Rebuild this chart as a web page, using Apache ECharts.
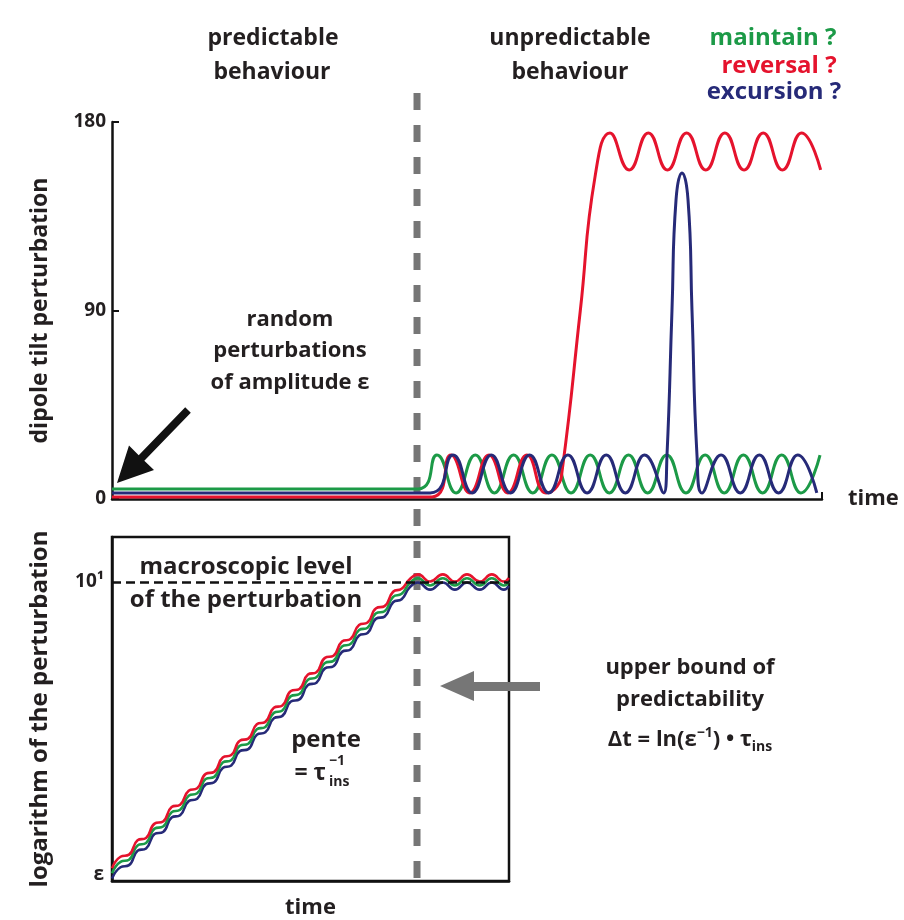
<!DOCTYPE html>
<html><head><meta charset="utf-8">
<script src="https://cdn.jsdelivr.net/npm/echarts@6/dist/echarts.min.js"></script>
<style>html,body{margin:0;padding:0;background:#fff}#c{width:904px;height:920px}</style>
</head><body><div id="c"></div>
<script>
// ---------------- data ----------------
const tiltTicks = [0, 90, 180];
const predictabilityLimit = 42.96;          // time of the dashed boundary

// top panel: dipole tilt perturbation (degrees) vs time
const greenTime = [0, 43.1, 45.77, 48.47, 51.17, 53.86, 56.56, 59.26, 61.96, 64.65, 67.35, 70.05, 72.75, 75.44, 78.14, 80.84, 83.54, 86.23, 88.93, 91.63, 94.32, 97.02, 99.72];
const greenTilt = [4.8, 4.8, 21, 2.9, 21, 2.9, 21, 2.9, 21, 2.9, 21, 2.9, 21, 2.9, 21, 2.9, 21, 2.9, 21, 2.9, 21, 2.9, 21];

const redTime = [0, 45.07, 47.75, 50.42, 53.1, 55.77, 58.45, 61.13, 62.68, 63.42, 65.96, 68.03, 70.14, 72.84, 75.54, 78.23, 80.93, 83.63, 86.32, 89.02, 91.72, 94.42, 97.11, 99.81];
const redTilt = [1.0, 1.0, 21, 2.9, 21, 2.9, 21, 2.9, 6, 14, 90, 153.8, 174.8, 157.1, 174.8, 157.1, 174.8, 157.1, 174.8, 157.1, 174.8, 157.1, 174.8, 157.1];

const blueTime = [0, 44.8, 48.03, 50.73, 53.42, 56.12, 58.82, 61.51, 64.21, 66.91, 69.61, 72.30, 75.0, 77.70, 78.17, 78.87, 79.44, 80.28, 81.13, 81.69, 82.39, 83.09, 85.79, 88.49, 91.18, 93.88, 96.58, 99.27];
const blueTilt = [2.9, 2.9, 21, 2.9, 21, 2.9, 21, 2.9, 21, 2.9, 21, 2.9, 21, 2.9, 21, 90, 142.8, 155.7, 142.8, 90, 21, 2.9, 21, 2.9, 21, 2.9, 21, 2.9];

// bottom panel: logarithm of the perturbation vs time
const logTicks = [0.2, 10];
const logTickLabels = ['ε', '10¹'];
const macroLevel = 10;
const logTime = [0, 1.2, 2.4, 3.6, 4.8, 6.0, 7.2, 8.4, 9.6, 10.8, 12.0, 13.2, 14.4, 15.6, 16.8, 18.0, 19.2, 20.4, 21.6, 22.8, 24.0, 25.2, 26.4, 27.6, 28.8, 30.0, 31.2, 32.4, 33.6, 34.8, 36.0, 37.2, 38.4, 39.6, 40.8, 41.9, 43.1, 44.8, 46.6, 48.3, 50.0, 51.8, 53.5, 55.2, 55.9];
const greenLog = [0.26, 0.64, 0.71, 1.19, 1.27, 1.75, 1.82, 2.30, 2.38, 2.85, 2.93, 3.41, 3.48, 3.96, 4.04, 4.52, 4.59, 5.07, 5.15, 5.62, 5.70, 6.18, 6.25, 6.73, 6.81, 7.29, 7.36, 7.84, 7.92, 8.39, 8.47, 8.95, 9.02, 9.50, 9.60, 9.95, 10.12, 9.88, 10.12, 9.88, 10.12, 9.88, 10.12, 9.88, 10.0];
const redLog = [0.43, 0.81, 0.88, 1.36, 1.44, 1.92, 1.99, 2.47, 2.55, 3.02, 3.10, 3.58, 3.65, 4.13, 4.21, 4.69, 4.76, 5.24, 5.32, 5.79, 5.87, 6.35, 6.42, 6.90, 6.98, 7.46, 7.53, 8.01, 8.09, 8.56, 8.64, 9.12, 9.19, 9.67, 9.77, 10.08, 10.25, 10.01, 10.25, 10.01, 10.25, 10.01, 10.25, 10.01, 10.13];
const blueLog = [0.08, 0.46, 0.53, 1.01, 1.09, 1.57, 1.64, 2.12, 2.20, 2.67, 2.75, 3.23, 3.30, 3.78, 3.86, 4.34, 4.41, 4.89, 4.97, 5.44, 5.52, 6.00, 6.07, 6.55, 6.63, 7.11, 7.18, 7.66, 7.74, 8.21, 8.29, 8.77, 8.84, 9.32, 9.42, 9.81, 9.98, 9.74, 9.98, 9.74, 9.98, 9.74, 9.98, 9.74, 9.86];

// ---------------- styling ----------------
const FONT = '"Open Sans", "Noto Sans", "DejaVu Sans", sans-serif';
const INK = '#231f20';
const GREEN = '#1c9a47', RED = '#e5132d', BLUE = '#262a78', GRAY = '#767676';

const zip = (a, b) => a.map((t, i) => [t, b[i]]);
function line(name, xi, yi, data, color, width, extra) {
  return Object.assign({
    type: 'line', name, xAxisIndex: xi, yAxisIndex: yi, data,
    symbol: 'none', showSymbol: false, smooth: 0.5, silent: true, animation: false,
    lineStyle: { color, width }, itemStyle: { color }
  }, extra || {});
}
const axisLine = { show: true, lineStyle: { color: '#111', width: 2.5 } };
const nameStyle = { fontFamily: FONT, fontSize: 23, fontWeight: 'bold', color: INK };

const chart = echarts.init(document.getElementById('c'));
chart.setOption({
  backgroundColor: '#fff',
  animation: false,
  grid: [
    { left: 112, top: 122, width: 710, height: 377 },
    { left: 112, top: 537, width: 397, height: 353, show: true, borderColor: '#111', borderWidth: 2.5 }
  ],
  xAxis: [
    { gridIndex: 0, type: 'value', min: 0, max: 100, axisLine,
      axisTick: { show: true, customValues: [100], inside: true, length: 7, lineStyle: { color: '#111', width: 2 } },
      axisLabel: { show: false }, splitLine: { show: false },
      name: 'time', nameLocation: 'end', nameGap: 26, nameTextStyle: Object.assign({}, nameStyle, { fontSize: 22 }) },
    { gridIndex: 1, type: 'value', min: 0, max: 55.92, axisLine,
      axisTick: { show: false }, axisLabel: { show: false }, splitLine: { show: false },
      name: 'time', nameLocation: 'middle', nameGap: 16, nameTextStyle: Object.assign({}, nameStyle, { fontSize: 22 }) }
  ],
  yAxis: [
    { gridIndex: 0, type: 'value', min: 0, max: 180, interval: 90, axisLine,
      axisTick: { show: true, inside: true, length: 7, lineStyle: { color: '#111', width: 2 } },
      axisLabel: { show: true, margin: 6, fontFamily: FONT, fontSize: 19, fontWeight: 'bold', color: INK },
      splitLine: { show: false },
      name: 'dipole tilt perturbation', nameLocation: 'middle', nameRotate: 90, nameGap: 60, nameTextStyle: nameStyle },
    { gridIndex: 1, type: 'value', min: 0, max: 11.5, axisLine,
      axisTick: { show: false },
      axisLabel: { show: true, customValues: logTicks, margin: 8, fontFamily: FONT, fontSize: 19, fontWeight: 'bold', color: INK,
        formatter: v => logTickLabels[logTicks.indexOf(v)] },
      splitLine: { show: false },
      name: 'logarithm of the perturbation', nameLocation: 'middle', nameRotate: 90, nameGap: 60,
      nameTextStyle: Object.assign({}, nameStyle, { fontSize: 24 }) }
  ],
  series: [
    line('maintain', 0, 0, zip(greenTime, greenTilt), GREEN, 3),
    line('reversal', 0, 0, zip(redTime, redTilt), RED, 3),
    line('excursion', 0, 0, zip(blueTime, blueTilt), BLUE, 3),
    line('blue log', 1, 1, zip(logTime, blueLog), BLUE, 2.6, {
      markLine: { silent: true, symbol: 'none', animation: false, label: { show: false },
        lineStyle: { color: '#111', width: 2.5, type: [9, 5] }, data: [{ yAxis: macroLevel }] } }),
    line('green log', 1, 1, zip(logTime, greenLog), GREEN, 2.6),
    line('red log', 1, 1, zip(logTime, redLog), RED, 2.6)
  ]
});

// ---------------- annotations ----------------
const xd = chart.convertToPixel({ xAxisIndex: 0 }, predictabilityLimit);
function T(text, x, y, opt) {
  opt = opt || {};
  return { type: 'text', x, y, z: 100, silent: true, style: Object.assign({
    text, fill: INK, fontFamily: FONT, fontSize: 22, fontWeight: 'bold', align: 'center', verticalAlign: 'middle'
  }, opt) };
}
const graphics = [
  { type: 'line', z: 1, silent: true, shape: { x1: xd, y1: 93, x2: xd, y2: 890 },
    style: { stroke: GRAY, lineWidth: 7, lineDash: [17, 15] } },
  // black arrow towards the small initial perturbations
  { type: 'polygon', silent: true, z: 50, shape: { points: [[117, 483], [154, 470], [144.3, 460.8], [190.8, 412.8], [185.2, 407.2], [138.7, 455.2], [129, 445.5]] },
    style: { fill: '#111' } },
  // gray arrow pointing at the boundary
  { type: 'polygon', silent: true, z: 50, shape: { points: [[440, 686], [474, 671], [474, 682], [540, 682], [540, 691], [474, 691], [474, 701]] },
    style: { fill: GRAY } },
  T('predictable', 273, 38, { fontSize: 23 }), T('behaviour', 272, 72, { fontSize: 23 }),
  T('unpredictable', 570, 38, { fontSize: 23 }), T('behaviour', 570, 72, { fontSize: 23 }),
  T('maintain ?', 773, 38, { fill: GREEN, fontSize: 24 }),
  T('reversal ?', 779, 66, { fill: RED, fontSize: 24 }),
  T('excursion ?', 774, 92, { fill: BLUE, fontSize: 24 }),
  T('random', 290, 320), T('perturbations', 290, 351), T('of amplitude ε', 290, 383),
  T('macroscopic level', 246, 567, { fontSize: 24 }), T('of the perturbation', 246, 600, { fontSize: 24 }),
  T('pente', 326, 740, { fontSize: 24 }),
  T('= τ', 326, 773, { align: 'right', fontSize: 23 }),
  T('−1', 329, 761, { align: 'left', fontSize: 14 }),
  T('ins', 329, 782, { align: 'left', fontSize: 14 }),
  T('upper bound of', 690, 668), T('predictability', 690, 700),
  T('Δt = ln(ε{sup|−1}) • τ{sub|ins}', 690, 740, {
    rich: {
      sup: { fontFamily: FONT, fontSize: 14, fontWeight: 'bold', fill: INK, verticalAlign: 'top', lineHeight: 14 },
      sub: { fontFamily: FONT, fontSize: 14, fontWeight: 'bold', fill: INK, verticalAlign: 'bottom', lineHeight: 10 }
    }, lineHeight: 28 })
];
chart.setOption({ graphic: graphics });
</script></body></html>
